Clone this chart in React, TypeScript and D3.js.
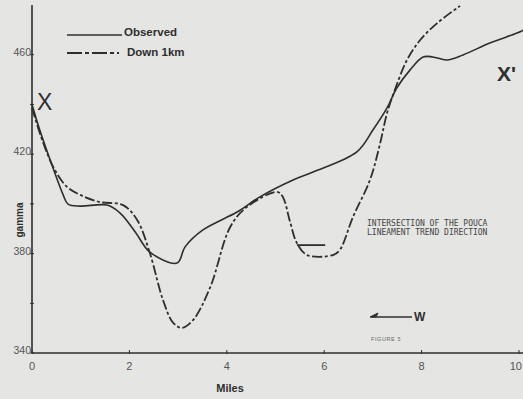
import * as React from "react";
import * as d3 from "d3";

// profile X - X', miles vs gamma
const observedMiles = [0, 0.16, 0.41, 0.64, 0.74, 0.99, 1.54, 1.81, 2.12, 2.42, 2.98, 3.14, 3.51, 4.21, 4.68, 5.36, 5.77, 6.67, 7.0, 7.29, 7.49, 7.76, 8.03, 8.23, 8.52, 8.85, 9.4, 9.96, 10.1];
const observedGamma = [440, 429.7, 415.6, 403.6, 399.9, 399.1, 399.5, 396.3, 388.7, 380.6, 376.2, 382.6, 389.5, 396.7, 402.8, 409.6, 412.8, 420.9, 429.7, 438.6, 446.6, 453.8, 459.1, 459.1, 457.9, 459.9, 464.7, 468.7, 470];

const downMiles = [0, 0.23, 0.47, 0.72, 0.99, 1.4, 1.87, 2.16, 2.42, 2.69, 2.9, 3.08, 3.31, 3.66, 4.07, 4.41, 5.03, 5.15, 5.3, 5.44, 5.65, 6.18, 6.32, 6.59, 6.94, 7.15, 7.29, 7.45, 7.7, 7.97, 8.32, 8.73, 8.79];
const downGamma = [438.6, 424.5, 413.6, 406.8, 403.6, 400.7, 399.5, 393.5, 380.2, 361.3, 352.1, 350.1, 353.3, 366.5, 390.7, 398.7, 404.8, 402.8, 392.7, 384.2, 379.4, 379.4, 381.4, 394.7, 409.6, 424.5, 436.5, 445.8, 457.9, 465.9, 472.7, 478.8, 479.6];

// short marker at the lineament intersection
const markerMiles = [5.44, 6.02];
const markerGamma = 383.4;

const xTicks = [0, 2, 4, 6, 8, 10];
const yTicks = [340, 360, 380, 400, 420, 440, 460];
const yLabels = [340, 380, 420, 460];

const ink = "#2e2e2e";

export default function App() {
    const width = 523;
    const height = 399;

    const x = d3.scaleLinear().domain([0, 10]).range([32, 519]);
    const y = d3.scaleLinear().domain([340, 480]).range([353, 5]);

    const line = d3.line<[number, number]>()
        .x(d => x(d[0]))
        .y(d => y(d[1]))
        .curve(d3.curveCatmullRom.alpha(0.5));

    const observed = observedMiles.map((m, i) => [m, observedGamma[i]] as [number, number]);
    const down = downMiles.map((m, i) => [m, downGamma[i]] as [number, number]);

    return (
        <svg width={width} height={height} style={{position: "absolute", left: 0, top: 0, background: "#e5e5e3"}}
             fontFamily="Liberation Sans, Arial, sans-serif">
            {/* axes */}
            <line x1={x(0)} x2={x(0)} y1={5} y2={y(340)} stroke={ink} strokeWidth={1.6}/>
            <line x1={x(0)} x2={523} y1={y(340)} y2={y(340)} stroke={ink} strokeWidth={1.6}/>
            {yTicks.map(t => (
                <line key={"yt" + t} x1={x(0) - 2} x2={x(0) + 2} y1={y(t)} y2={y(t)} stroke={ink} strokeWidth={1}/>
            ))}
            {yLabels.map(t => (
                <text key={"yl" + t} x={x(0) - 1} y={y(t) + 1} textAnchor="end" fontSize={10.5} fill="#555">{t}</text>
            ))}
            {xTicks.map(t => (
                <g key={"xt" + t}>
                    <line x1={x(t)} x2={x(t)} y1={y(340) - 3} y2={y(340) + 1} stroke={ink} strokeWidth={1}/>
                    <text x={t === 10 ? 522 : x(t)} y={y(340) + 17} textAnchor={t === 10 ? "end" : "middle"}
                          fontSize={11} fill="#555">{t}</text>
                </g>
            ))}
            <text x={230} y={392} textAnchor="middle" fontSize={11} fontWeight="bold" fill={ink}>Miles</text>
            <text transform={`translate(23,${220}) rotate(-90)`} textAnchor="middle" fontSize={10} fontWeight="bold" fill={ink}>gamma</text>

            {/* profiles */}
            <path d={line(observed) || ""} fill="none" stroke={ink} strokeWidth={1.6}/>
            <path d={line(down) || ""} fill="none" stroke={ink} strokeWidth={1.8} strokeDasharray="10,2.5,3,2.5"/>
            <line x1={x(markerMiles[0])} x2={x(markerMiles[1])} y1={y(markerGamma)} y2={y(markerGamma)} stroke={ink} strokeWidth={1.8}/>

            {/* legend */}
            <line x1={67} x2={122} y1={35} y2={35} stroke={ink} strokeWidth={1.6}/>
            <text x={124} y={36} fontSize={11.5} fontWeight="bold" fill={ink}>Observed</text>
            <line x1={67} x2={119} y1={53} y2={53} stroke={ink} strokeWidth={1.8} strokeDasharray="15,3,4,3"/>
            <text x={127} y={56} fontSize={11.5} fontWeight="bold" fill={ink}>Down 1km</text>

            {/* annotations */}
            <text x={37} y={110} fontSize={23} fill={ink}>X</text>
            <text x={497} y={81} fontSize={21} fontWeight="bold" fill={ink}>X'</text>
            <text x={367} y={226} fontSize={8} fontFamily="DejaVu Sans Mono, monospace" fill="#444">INTERSECTION OF THE POUCA</text>
            <text x={367} y={235} fontSize={8} fontFamily="DejaVu Sans Mono, monospace" fill="#444">LINEAMENT TREND DIRECTION</text>
            <line x1={371} x2={412} y1={317} y2={317} stroke={ink} strokeWidth={1.6}/>
            <path d="M370,317 L378,313 L376,317 Z" fill={ink} stroke={ink} strokeWidth={1}/>
            <text x={414} y={321} fontSize={12} fontWeight="bold" fill={ink}>W</text>
            <text x={371} y={341} fontSize={5.5} fill="#666" letterSpacing={0.6}>FIGURE 5</text>
        </svg>
    );
}
